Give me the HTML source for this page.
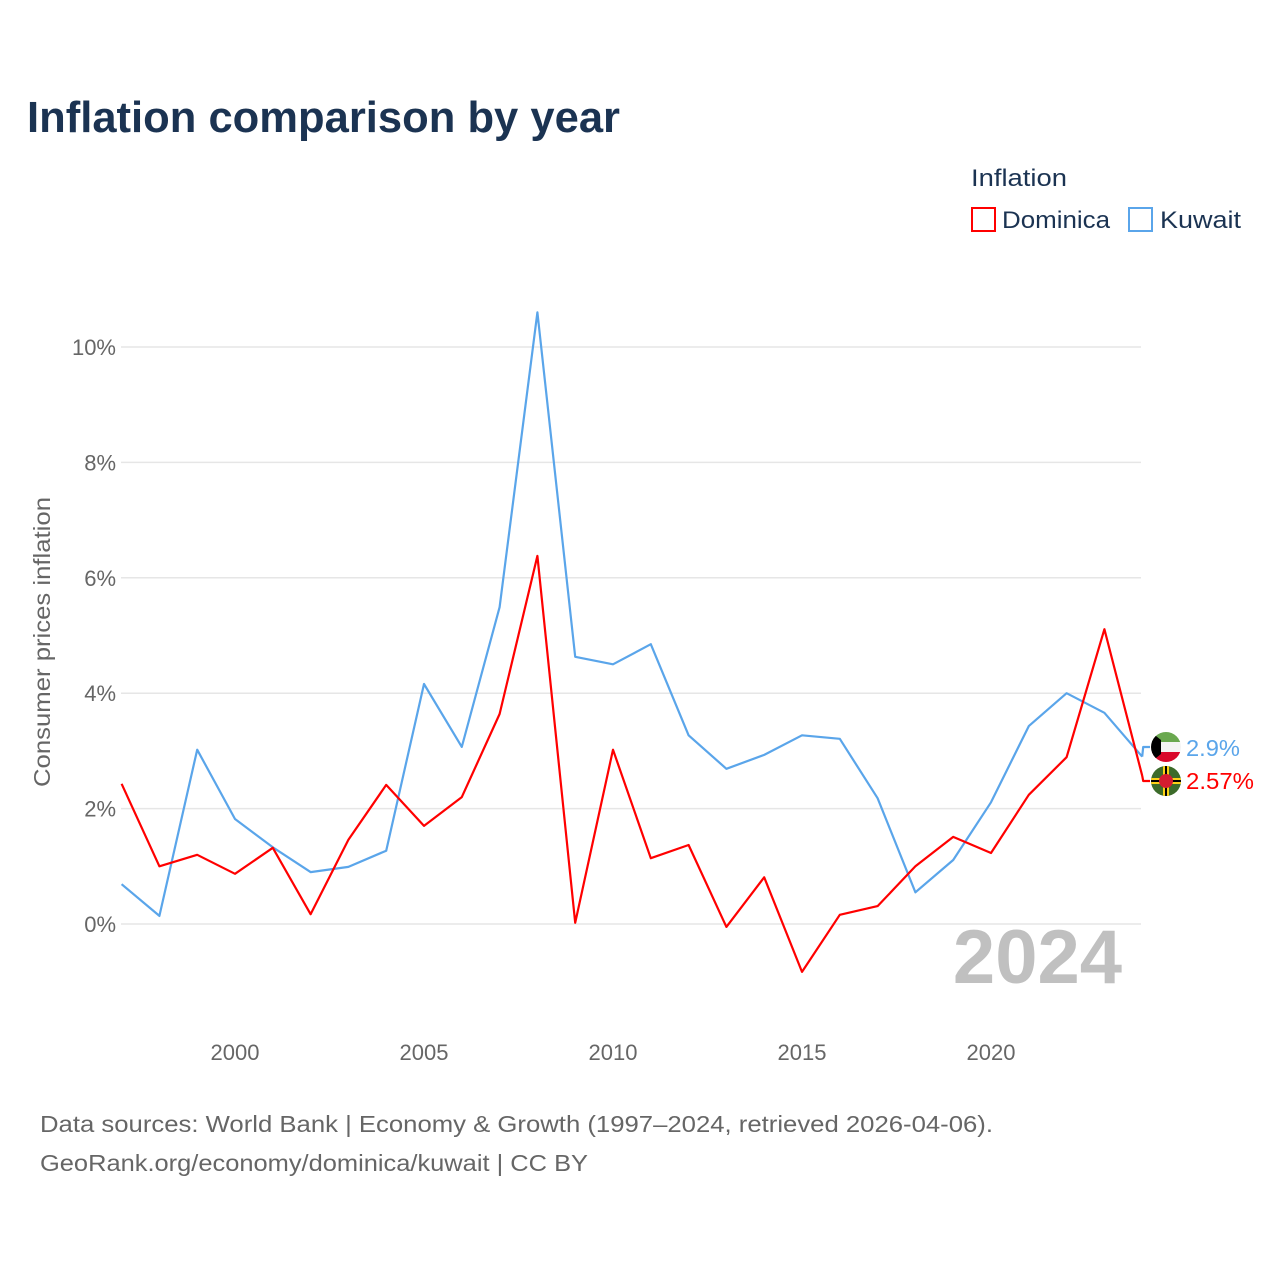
<!DOCTYPE html>
<html><head><meta charset="utf-8"><style>
body{margin:0;background:#fff;font-family:"Liberation Sans",sans-serif;}
</style></head><body>
<svg width="1280" height="1280" xmlns="http://www.w3.org/2000/svg" id="chart">
<rect width="1280" height="1280" fill="#fff"/>
<text x="27" y="132" font-size="44" font-weight="bold" fill="#1b3352" textLength="593" lengthAdjust="spacingAndGlyphs">Inflation comparison by year</text>
<g>
<text x="971" y="186" font-size="24" fill="#1b3352" textLength="96" lengthAdjust="spacingAndGlyphs">Inflation</text>
<g><rect x="972" y="208" width="23" height="23" fill="none" stroke="#ff0000" stroke-width="2"/><text x="1002" y="228" font-size="24" fill="#1b3352" textLength="108" lengthAdjust="spacingAndGlyphs">Dominica</text></g>
<g><rect x="1129" y="208" width="23" height="23" fill="none" stroke="#5aa5ea" stroke-width="2"/><text x="1160" y="228" font-size="24" fill="#1b3352" textLength="81" lengthAdjust="spacingAndGlyphs">Kuwait</text></g>
</g>
<g id="grid"></g><g id="yticks"></g><g id="xticks"></g>
<text x="1122" y="983" font-size="76" font-weight="bold" fill="#c0c0c0" text-anchor="end">2024</text>
<text transform="translate(50,642) rotate(-90)" font-size="23" fill="#666" text-anchor="middle" textLength="290" lengthAdjust="spacingAndGlyphs">Consumer prices inflation</text>
<g id="series"></g>
<g>
<clipPath id="ck"><circle cx="1166" cy="747" r="15"/></clipPath>
<g clip-path="url(#ck)"><rect x="1151" y="732" width="30" height="10" fill="#6aa84f"/><rect x="1151" y="742" width="30" height="10" fill="#f4f4f4"/><rect x="1151" y="752" width="30" height="10" fill="#d9072a"/><polygon points="1151,732 1161,740 1161,754 1151,762" fill="#000"/></g></g>
<g>
<clipPath id="cd"><circle cx="1166" cy="781" r="15"/></clipPath>
<g clip-path="url(#cd)"><rect x="1151" y="766" width="30" height="30" fill="#3c6b2a"/><rect x="1163" y="766" width="6" height="30" fill="#fcd116"/><rect x="1151" y="778" width="30" height="6" fill="#fcd116"/><rect x="1165" y="766" width="2" height="30" fill="#000"/><rect x="1151" y="780" width="30" height="2" fill="#000"/><circle cx="1166" cy="781" r="7" fill="#d41c30"/></g></g>
<text x="1186" y="756" font-size="23" fill="#5aa5ea" textLength="54" lengthAdjust="spacingAndGlyphs">2.9%</text>
<text x="1186" y="789" font-size="23" fill="#ff0000" textLength="68" lengthAdjust="spacingAndGlyphs">2.57%</text>
<text x="40" y="1132" font-size="23" fill="#666" textLength="953" lengthAdjust="spacingAndGlyphs">Data sources: World Bank | Economy &amp; Growth (1997–2024, retrieved 2026-04-06).</text>
<text x="40" y="1171" font-size="23" fill="#666" textLength="548" lengthAdjust="spacingAndGlyphs">GeoRank.org/economy/dominica/kuwait | CC BY</text>
</svg>
<script>
const years=[1997,1998,1999,2000,2001,2002,2003,2004,2005,2006,2007,2008,2009,2010,2011,2012,2013,2014,2015,2016,2017,2018,2019,2020,2021,2022,2023,2024];
const dominica=[2.43,1.0,1.2,0.87,1.32,0.17,1.46,2.41,1.70,2.20,3.64,6.38,0.02,3.02,1.14,1.37,-0.05,0.81,-0.83,0.16,0.31,1.0,1.51,1.23,2.24,2.89,5.11,2.57];
const kuwait=[0.69,0.14,3.02,1.82,1.33,0.9,0.99,1.27,4.16,3.07,5.49,10.6,4.63,4.5,4.85,3.27,2.69,2.93,3.27,3.21,2.18,0.55,1.11,2.11,3.43,4.0,3.66,2.9];
const yTicks=[0,2,4,6,8,10];
const xTicks=[2000,2005,2010,2015,2020];
const NS="http://www.w3.org/2000/svg";
const xS=y=>121.6+(y-1997)*37.8;
const yS=v=>924-v*57.7;
function mk(t,a,p){const e=document.createElementNS(NS,t);for(const k in a)e.setAttribute(k,a[k]);p.appendChild(e);return e;}
const grid=document.getElementById('grid'),yt=document.getElementById('yticks'),xt=document.getElementById('xticks'),ser=document.getElementById('series');
yTicks.forEach(v=>{
 const l=mk('line',{x1:121,x2:1141,y1:yS(v),y2:yS(v),stroke:'#e6e6e6','stroke-width':1.5},grid);
 
 
 const t=mk('text',{x:116,y:yS(v)+8,'font-size':22,fill:'#666','text-anchor':'end'},yt);t.textContent=v+'%';
 
 
});
xTicks.forEach(v=>{
 const t=mk('text',{x:xS(v),y:1060,'font-size':22,fill:'#666','text-anchor':'middle'},xt);t.textContent=v;
 
 
});
function line(vals,color,name,ly){
 let d=vals.map((v,i)=>(i?'L':'M')+xS(years[i]).toFixed(1)+','+yS(v).toFixed(1)).join('');
 const ex=xS(years[years.length-1]),ey=yS(vals[vals.length-1]);
 d+='M'+ex+','+ey+'L'+(ex+1)+','+ly+'L1150,'+ly;
 const p=mk('path',{d:d,fill:'none',stroke:color,'stroke-width':2.2,'stroke-linejoin':'round'},ser);
 
 
}
line(kuwait,'#5aa5ea','line-kuwait',747);
line(dominica,'#ff0000','line-dominica',781);
</script>
</body></html>
